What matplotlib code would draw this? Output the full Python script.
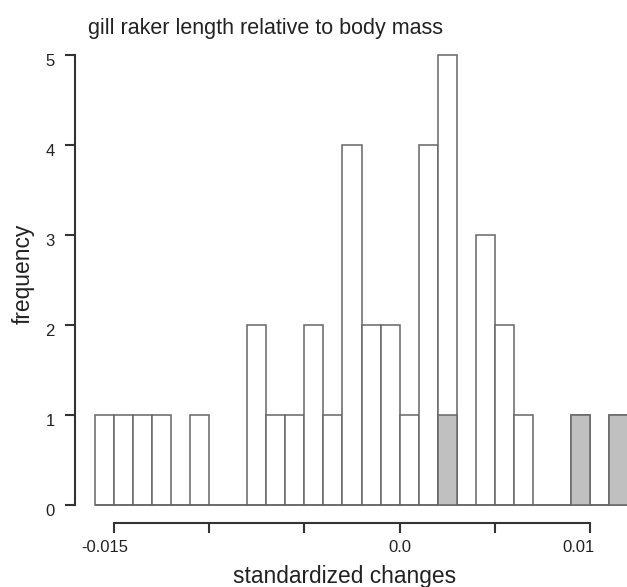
import numpy as np
import matplotlib
matplotlib.use("Agg")
import matplotlib.pyplot as plt
from matplotlib.transforms import ScaledTranslation

plt.rcParams['font.family'] = ['Liberation Sans', 'DejaVu Sans']

# histogram breaks (width 0.001) and counts
breaks = np.round(np.arange(-0.016, 0.0121, 0.001), 3)
counts = [1, 1, 1, 1, 0, 1, 0, 0, 2, 1, 1, 2, 1, 4,
          2, 2, 1, 4, 5, 0, 3, 2, 1, 0, 0, 1, 0, 1]
# shaded part of each bin
counts_grey = [0, 0, 0, 0, 0, 0, 0, 0, 0, 0, 0, 0, 0, 0,
               0, 0, 0, 0, 1, 0, 0, 0, 0, 0, 0, 1, 0, 1]

x_ticks = [-0.015, -0.01, -0.005, 0.0, 0.005, 0.01]
x_labels = ['-0.015', '', '', '0.0', '', '0.01']
y_ticks = [0, 1, 2, 3, 4, 5]

fig = plt.figure(figsize=(6.27, 5.87), dpi=100)
ax = fig.add_axes([75/627, 64/587, 552/627, 473/587])

left = breaks[:-1]
w = 0.001
ax.bar(left, counts, width=w, align='edge', color='white',
       edgecolor='#666666', linewidth=1.1)
ax.bar(left, counts_grey, width=w, align='edge', color='#c0c0c0',
       edgecolor='#666666', linewidth=1.1)

ax.set_xlim(-324/19000, 227/19000)
ax.set_ylim(-0.2, 5 + 5/90)

for s in ['top', 'right']:
    ax.spines[s].set_visible(False)
for s in ['left', 'bottom']:
    ax.spines[s].set_color('#333333')
    ax.spines[s].set_linewidth(1.5)
ax.spines['bottom'].set_bounds(-0.015, 0.01)
ax.spines['left'].set_bounds(0, 5)

ax.set_xticks(x_ticks)
ax.set_xticklabels(x_labels)
ax.set_yticks(y_ticks)
ax.tick_params(axis='both', length=7.5, width=1.5, color='#333333',
               labelsize=12, labelcolor='#222222')
ax.tick_params(axis='x', pad=4.5)
ax.tick_params(axis='y', pad=7)

# label positions as drawn in the original
xl = ax.get_xticklabels()
xl[0].set_transform(xl[0].get_transform() + ScaledTranslation(-9.5/100, 0, fig.dpi_scale_trans))
xl[-1].set_transform(xl[-1].get_transform() + ScaledTranslation(-11.5/100, 0, fig.dpi_scale_trans))
for lbl in ax.get_yticklabels():
    lbl.set_transform(lbl.get_transform() + ScaledTranslation(0, -5/100, fig.dpi_scale_trans))

ax.set_xlabel('standardized changes', fontsize=16.4, color='#222222')
ax.xaxis.label.set_va('baseline')
ax.xaxis.set_label_coords(0.489, -0.1279)
ax.set_ylabel('frequency', fontsize=16.4, color='#222222')
ax.yaxis.label.set_va('center')
ax.yaxis.set_label_coords(-0.094, 0.5264)

fig.text(88/627, 1 - 34/587, 'gill raker length relative to body mass',
         fontsize=15.5, color='#222222', ha='left', va='baseline')

fig.savefig('out.png', dpi=100)
